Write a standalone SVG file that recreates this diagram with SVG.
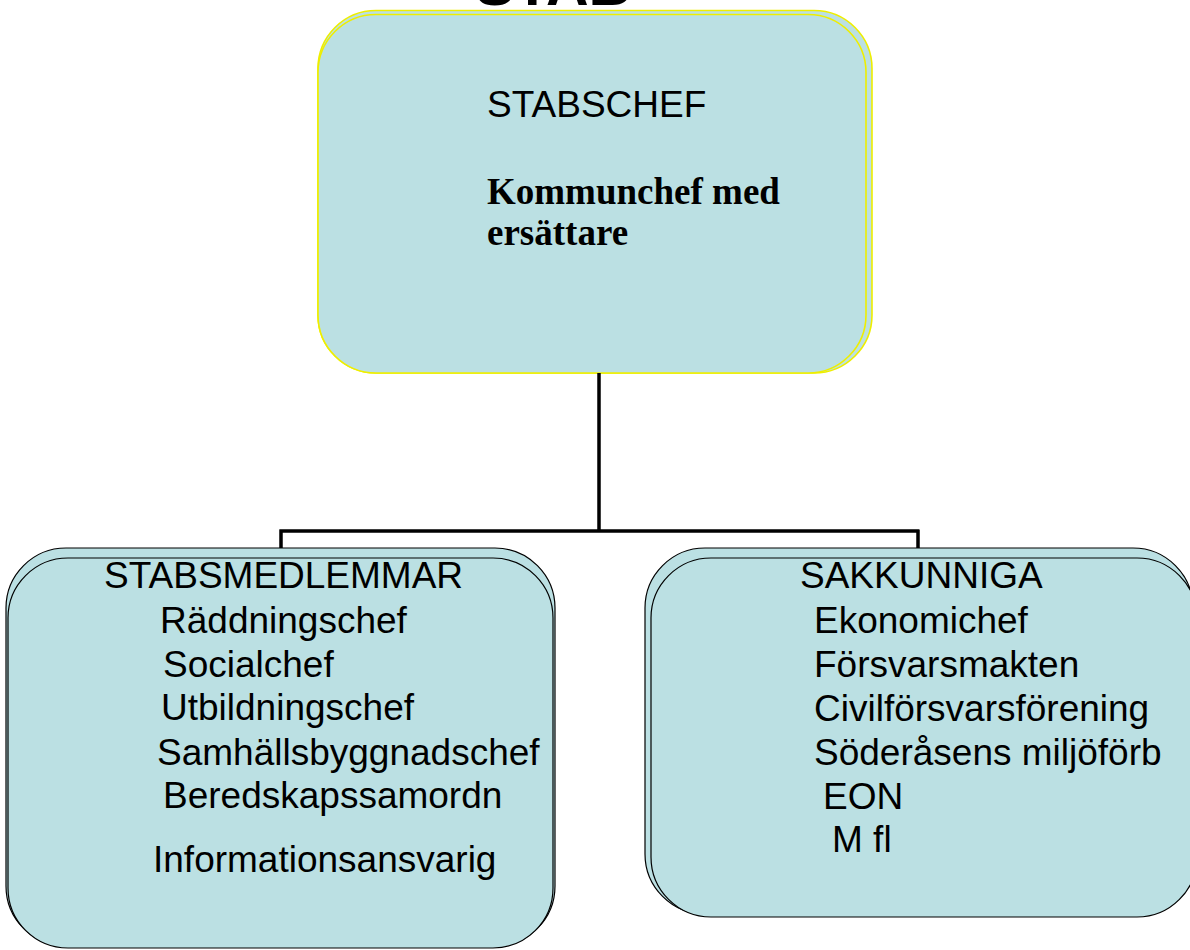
<svg xmlns="http://www.w3.org/2000/svg" width="1190" height="950" viewBox="0 0 1190 950">
<style>
.box{fill:#BBE0E3}
.ybox{stroke:#EEEE00;stroke-width:1.6}
.kbox{stroke:#000;stroke-width:1.2}
.t{font-family:"Liberation Sans",Arial,sans-serif;font-size:37px;fill:#000}
.ts{font-family:"Liberation Serif","Times New Roman",serif;font-size:37px;font-weight:bold;fill:#000}
.conn{fill:none;stroke:#000;stroke-width:3.5}
</style>
<rect width="1190" height="950" fill="#fff"/>
<text x="553" y="5" text-anchor="middle" style="font-family:'Liberation Sans',Arial,sans-serif;font-size:59px;font-weight:bold">STAB</text>
<g id="stabschef">
<rect class="box ybox" x="318" y="10.5" width="554" height="362.5" rx="58" ry="58"/>
<rect class="box ybox" x="318" y="14.5" width="548" height="358.5" rx="58" ry="58"/>
<text class="t" x="487" y="117">STABSCHEF</text>
<text class="ts" x="487" y="204">Kommunchef med</text>
<text class="ts" x="487" y="245">ersättare</text>
</g>
<g id="connectors">
<path class="conn" d="M599,373 V531 M279.5,531 H919 M281,529.5 V549 M918,529.5 V549"/>
</g>
<g id="stabsmedlemmar">
<rect class="box kbox" x="6" y="548" width="549" height="398" rx="60" ry="60"/>
<rect class="box kbox" x="8" y="558" width="545" height="390" rx="60" ry="60"/>
<text class="t" x="104" y="588">STABSMEDLEMMAR</text>
<text class="t" x="160" y="633">Räddningschef</text>
<text class="t" x="163" y="677">Socialchef</text>
<text class="t" x="161" y="720">Utbildningschef</text>
<text class="t" x="157" y="765">Samhällsbyggnadschef</text>
<text class="t" x="163" y="808">Beredskapssamordn</text>
<text class="t" x="153" y="872">Informationsansvarig</text>
</g>
<g id="sakkunniga">
<rect class="box kbox" x="645" y="548" width="548" height="366" rx="60" ry="60"/>
<rect class="box kbox" x="651" y="558" width="546" height="359" rx="60" ry="60"/>
<text class="t" x="800" y="588">SAKKUNNIGA</text>
<text class="t" x="814" y="633">Ekonomichef</text>
<text class="t" x="814" y="677">Försvarsmakten</text>
<text class="t" x="814" y="721">Civilförsvarsförening</text>
<text class="t" x="814" y="765">Söderåsens miljöförb</text>
<text class="t" x="823" y="809">EON</text>
<text class="t" x="832" y="852">M fl</text>
</g>
</svg>
